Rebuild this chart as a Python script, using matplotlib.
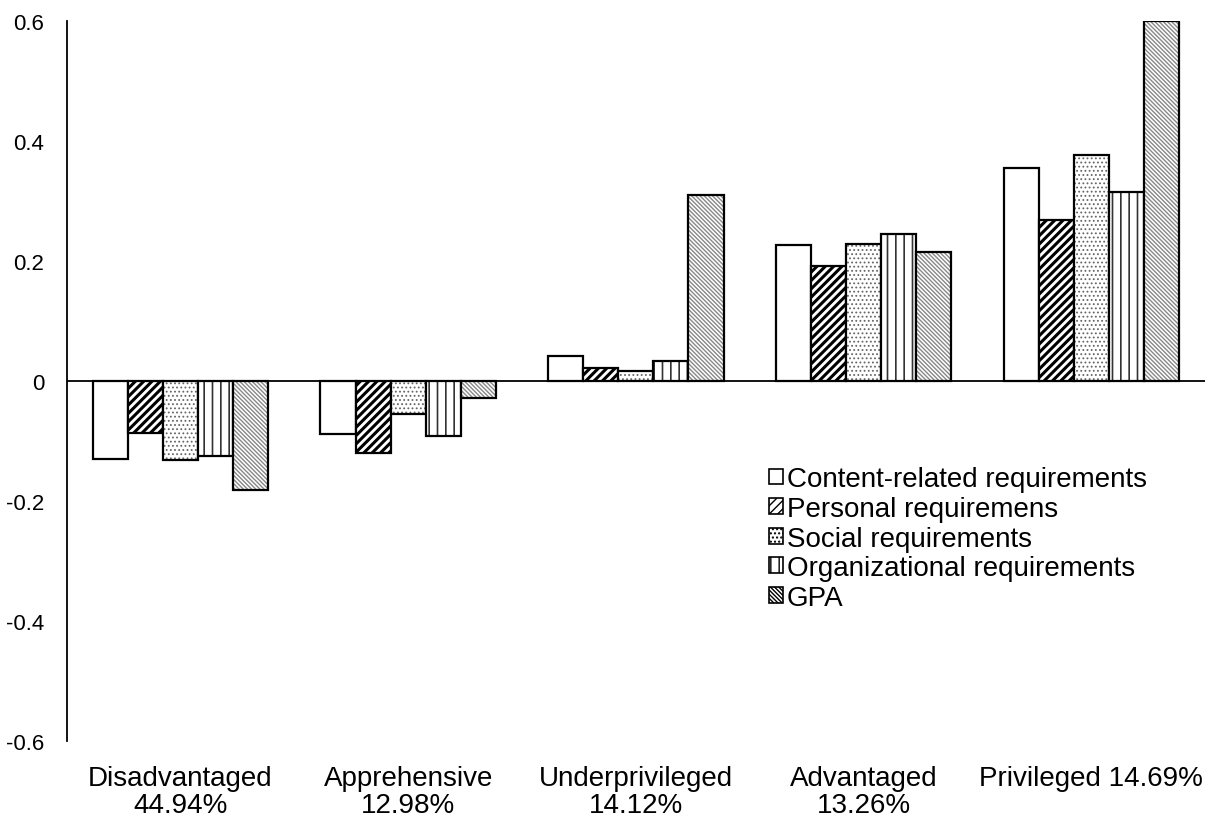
import matplotlib.pyplot as plt
import numpy as np

# profile groups (x axis) and requirement dimensions (bars)
groups = ['Disadvantaged\n44.94%', 'Apprehensive\n12.98%', 'Underprivileged\n14.12%',
          'Advantaged\n13.26%', 'Privileged 14.69%']
series = ['Content-related requirements', 'Personal requiremens', 'Social requirements',
          'Organizational requirements', 'GPA']

content = [-0.130, -0.088, 0.042, 0.227, 0.355]
personal = [-0.087, -0.119, 0.022, 0.192, 0.268]
social = [-0.132, -0.055, 0.017, 0.228, 0.377]
organizational = [-0.125, -0.092, 0.034, 0.245, 0.315]
gpa = [-0.182, -0.028, 0.310, 0.215, 0.600]

values = [content, personal, social, organizational, gpa]

# hatch, hatch colour, hatch linewidth for each series
hatches = ['', '////', '....', '||', '\\\\\\\\\\\\\\\\']
hatch_colors = ['black', 'black', '#666666', '#333333', '#888888']
hatch_lw = [1.0, 2.2, 0.8, 1.2, 1.0]

plt.rcParams['font.family'] = ['Liberation Sans', 'DejaVu Sans']

fig = plt.figure(figsize=(12.1, 8.2), dpi=100)
ax = fig.add_axes([0.055, 0.095, 0.941, 0.878])

x = np.arange(len(groups))
w = 0.154

for i, vals in enumerate(values):
    pos = x + (i - 2) * w
    # hatch layer first, then black outline on top
    with plt.rc_context({'hatch.linewidth': hatch_lw[i]}):
        ax.bar(pos, vals, w, color='white', edgecolor=hatch_colors[i],
               hatch=hatches[i], linewidth=0)
    ax.bar(pos, vals, w, fill=False, edgecolor='black', linewidth=1.6)

# legend proxies
handles = []
for i in range(len(series)):
    with plt.rc_context({'hatch.linewidth': min(hatch_lw[i], 1.2)}):
        h = plt.Rectangle((0, 0), 1, 1, facecolor='white', edgecolor='black',
                          hatch=hatches[i], linewidth=1.2)
    handles.append(h)

ax.legend(handles, series, loc='upper left', bbox_to_anchor=(0.607, 0.397),
          frameon=False, fontsize=20, handlelength=0.5, handleheight=0.5,
          handletextpad=0.15, labelspacing=0.13, borderaxespad=0)

ax.axhline(0, color='black', linewidth=1.3)
ax.set_ylim(-0.6, 0.6)
ax.set_xlim(-0.5, len(groups) - 0.5)
ax.set_yticks([-0.6, -0.4, -0.2, 0, 0.2, 0.4, 0.6])
ax.set_yticklabels(['-0.6', '-0.4', '-0.2', '0', '0.2', '0.4', '0.6'])
ax.set_xticks(x)
ax.set_xticklabels(groups, fontsize=20, linespacing=1.05)

ax.tick_params(axis='y', length=0, pad=16, labelsize=16)
ax.tick_params(axis='x', length=0, pad=17)

for s in ['top', 'right', 'bottom']:
    ax.spines[s].set_visible(False)
ax.spines['left'].set_linewidth(1.3)

plt.savefig('out.png', dpi=100)
